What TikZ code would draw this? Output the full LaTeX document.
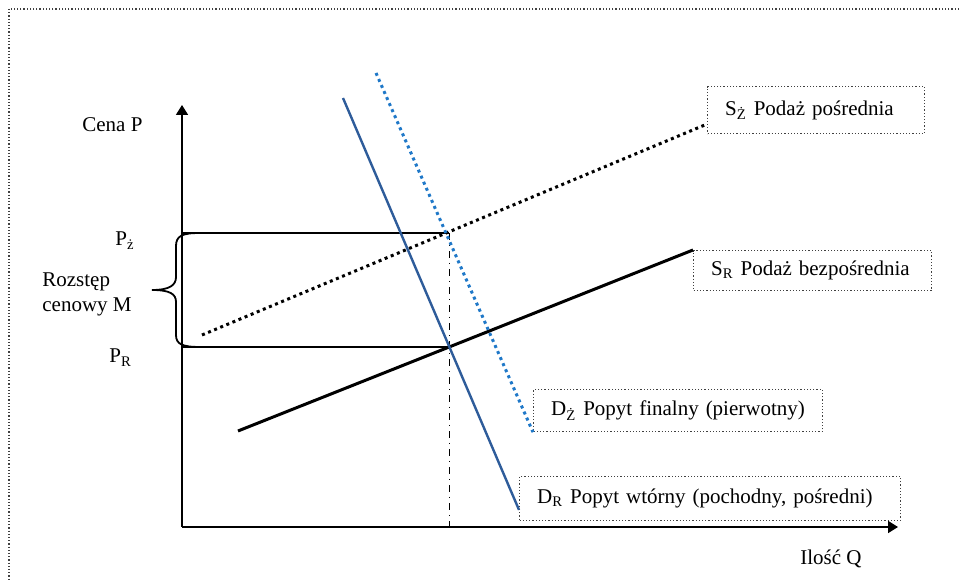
\documentclass[tikz,border=0pt]{standalone}
\usepackage{fontspec}
\setmainfont{Liberation Serif}
\usepackage{xcolor}
\usepackage{tikz}
\usetikzlibrary{arrows.meta, calc}
\definecolor{demandcolor}{HTML}{2E5C9A}
\definecolor{finalcolor}{HTML}{1F78C8}
\definecolor{framecolor}{HTML}{404040}

\begin{document}
\begin{tikzpicture}[x=0.5pt, y=0.5pt, font=\fontsize{10.5}{12.5}\selectfont,
    axisline/.style={line width=0.8pt, -{Triangle[length=5pt, width=6pt]}},
    pricelevel/.style={line width=0.8pt},
    legendbox/.style={rectangle, draw=framecolor, densely dotted, line width=0.6pt, inner xsep=8.75pt, inner ysep=0pt, align=left, anchor=north west},
    supplyline/.style={line width=1.5pt},
    dotline/.style={line width=1.5pt, dash pattern=on 1.5pt off 1.8pt},
    tag/.style={anchor=base west, inner sep=0pt}
]
\useasboundingbox (0,0) rectangle (961,581);
\clip (0,0) rectangle (961,581);

% Frame
\draw[densely dotted, line width=0.6pt, framecolor] (9,572) rectangle (980,-20);

% Legend boxes
\node[legendbox, text width=91pt, minimum height=23.5pt] (SZ) at (707,495) {S\textsubscript{Ż} Podaż pośrednia};
\node[legendbox, text width=101.5pt, minimum height=20pt] (SR) at (693,331) {S\textsubscript{R} Podaż bezpośrednia};
\node[legendbox, text width=127pt, minimum height=21pt] (DZ) at (533,192) {D\textsubscript{Ż} Popyt finalny (pierwotny)};
\node[legendbox, text width=173pt, minimum height=22pt] (DR) at (519,105) {D\textsubscript{R} Popyt wtórny (pochodny, pośredni)};

% Curve end points
\coordinate (SZa) at (202,246);
\coordinate (SZb) at ($(SZ.south west)!0.21!(SZ.north west)$);
\coordinate (SRa) at (238,150);
\coordinate (SRb) at (SR.north west);
\coordinate (DRa) at (343,483);
\coordinate (DRb) at ($(DR.south west)!0.25!(DR.north west)$);
\coordinate (DZa) at (376,508);
\coordinate (DZb) at (DZ.south west);

% Equilibria
\coordinate (EqR) at (intersection of SRa--SRb and DRa--DRb);
\coordinate (EqZ) at (intersection of SZa--SZb and DZa--DZb);

% Axes
\coordinate (O) at (182,54);
\coordinate (Ptop) at (182,476);
\coordinate (Qend) at (898,54);
\draw[axisline] (O) -- (Ptop);
\draw[axisline] (O) -- (Qend);
\node[tag] (cena) at (82,449) {Cena P};
\node[tag] (ilosc) at (800,16) {Ilość Q};

% Price levels
\draw[pricelevel] (O |- EqZ) -- (EqR |- EqZ);
\draw[pricelevel] (O |- EqR) -- (EqR);
\draw[line width=0.8pt, dash pattern=on 3.5pt off 2.4pt on 0.7pt off 2.4pt] (EqR |- EqZ) -- (EqR |- O);
\node[tag] (PZ) at (115,335) {P\textsubscript{ż}};
\node[tag] (PR) at (109,218) {P\textsubscript{R}};

% Brace
\draw[line width=0.9pt] (200,348) .. controls (182,348) and (176,345) .. (176,335) -- (176,304)
    .. controls (176,296) and (170,291) .. (152,291)
    .. controls (170,291) and (176,287) .. (176,279) -- (176,246)
    .. controls (176,237) and (182,234) .. (200,234);
\node[anchor=west, inner sep=0pt, align=left] (M) at (42,287) {Rozstęp\\cenowy M};

% Curves
\draw[dotline] (SZa) -- (SZb);
\draw[supplyline] (SRa) -- (SRb);
\draw[dotline, finalcolor] (DZa) -- (DZb);
\draw[line width=1.2pt, demandcolor] (DRa) -- (DRb);

\end{tikzpicture}
\end{document}
